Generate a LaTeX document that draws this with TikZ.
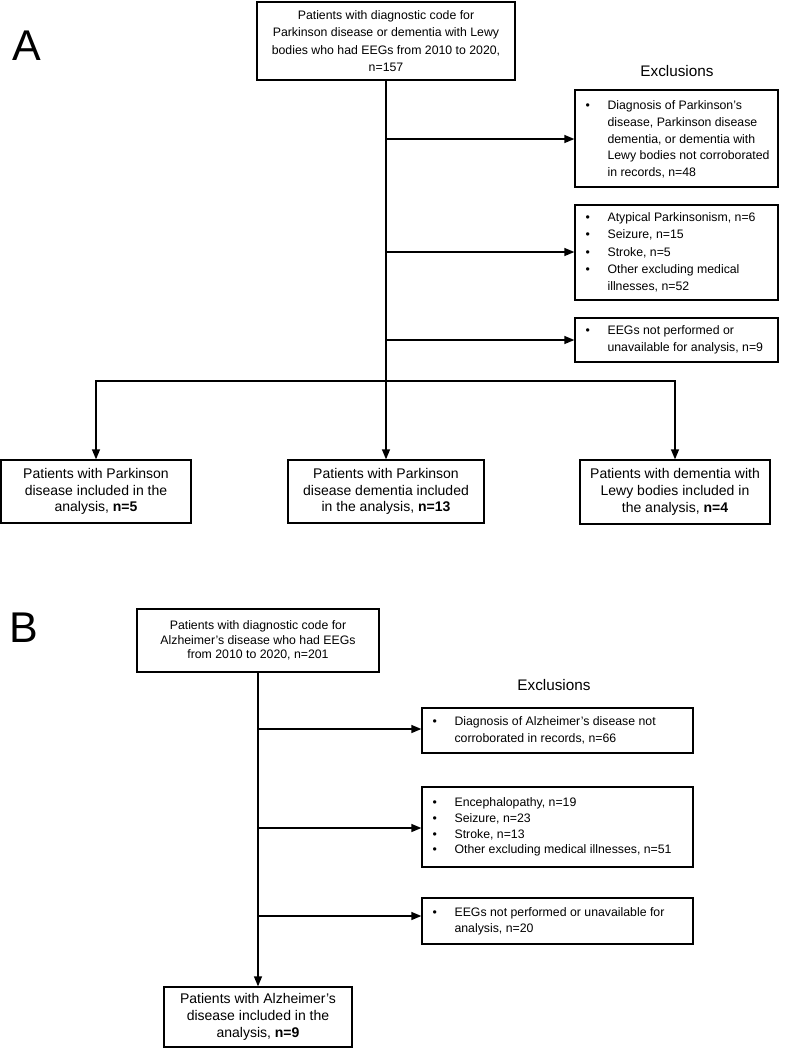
\documentclass[tikz,border=0pt]{standalone}
\usepackage{fontspec}
\setmainfont{Liberation Sans}
\usetikzlibrary{arrows.meta}
\newcommand{\bl}{\makebox[22pt][l]{\textbullet}}
\newcommand{\ind}{\hspace*{22pt}}
\begin{document}
\begin{tikzpicture}[x=1pt,y=-1pt,
  box/.style={draw, line width=1.3pt, inner sep=0pt, align=center},
  exbox/.style={draw, line width=1.3pt, inner sep=0pt},
  extext/.style={inner sep=0pt, align=left, anchor=west},
  conn/.style={line width=1.3pt},
  arr/.style={line width=1.3pt, -{Triangle[length=10pt,width=8pt]}},
  panel/.style={font=\fontsize{43}{43}\selectfont, anchor=base, inner sep=0pt},
  extitle/.style={font=\fontsize{15.3}{18}\selectfont, inner sep=0pt}
]
\useasboundingbox (0,0) rectangle (786,1050);

% ---------- Panel A ----------
\node[panel] (labA) at (27,60) {A};
\node[box, minimum width=258pt, minimum height=78pt,
  font=\fontsize{12.3}{17.5}\selectfont] (A0) at (386,41)
  {Patients with diagnostic code for\\Parkinson disease or dementia with Lewy\\bodies who had EEGs from 2010 to 2020,\\n=157};

\node[extitle] (exA) at (677,71) {Exclusions};

\node[exbox, minimum width=203pt, minimum height=97pt] (EA1) at (676.5,138.5) {};
\node[extext, font=\fontsize{12.3}{16.7}\selectfont] (EA1t) at ([xshift=11pt,yshift=-1pt]EA1.west)
  {\bl Diagnosis of Parkinson’s\\\ind disease, Parkinson disease\\\ind dementia, or dementia with\\\ind Lewy bodies not corroborated\\\ind in records, n=48};

\node[exbox, minimum width=203pt, minimum height=95pt] (EA2) at (676.5,252.5) {};
\node[extext, font=\fontsize{12.3}{17.2}\selectfont] (EA2t) at ([xshift=11pt]EA2.west)
  {\bl Atypical Parkinsonism, n=6\\\bl Seizure, n=15\\\bl Stroke, n=5\\\bl Other excluding medical\\\ind illnesses, n=52};

\node[exbox, minimum width=203pt, minimum height=44pt] (EA3) at (676.5,340) {};
\node[extext, font=\fontsize{12.3}{17.2}\selectfont] (EA3t) at ([xshift=11pt]EA3.west)
  {\bl EEGs not performed or\\\ind unavailable for analysis, n=9};

\node[box, minimum width=190pt, minimum height=63pt,
  font=\fontsize{14}{16.7}\selectfont] (AL) at (96,491.5)
  {Patients with Parkinson\\disease included in the\\analysis, \textbf{n=5}};
\node[box, minimum width=196pt, minimum height=63pt,
  font=\fontsize{14}{16.7}\selectfont] (AM) at (386,491.5)
  {Patients with Parkinson\\disease dementia included\\in the analysis, \textbf{n=13}};
\node[box, minimum width=190pt, minimum height=64pt,
  font=\fontsize{14}{16.7}\selectfont] (AR) at (675,492)
  {Patients with dementia with\\Lewy bodies included in\\the analysis, \textbf{n=4}};

\coordinate (a1) at (386,139);
\coordinate (a2) at (386,252);
\coordinate (a3) at (386,340);
\coordinate (aB) at (386,381);

\draw[arr] (A0.south) -- (AM.north);
\draw[arr] (a1) -- (a1 -| EA1.west);
\draw[arr] (a2) -- (a2 -| EA2.west);
\draw[arr] (a3) -- (a3 -| EA3.west);
\draw[arr] (aB) -| (AL.north);
\draw[arr] (aB) -| (AR.north);

% ---------- Panel B ----------
\node[panel] (labB) at (24,642) {B};
\node[box, minimum width=242pt, minimum height=63pt,
  font=\fontsize{12.3}{14.7}\selectfont] (B0) at (258,640.5)
  {Patients with diagnostic code for\\Alzheimer’s disease who had EEGs\\from 2010 to 2020, n=201};

\node[extitle] (exB) at (554,685) {Exclusions};

\node[exbox, minimum width=271pt, minimum height=45pt] (EB1) at (557.5,730.5) {};
\node[extext, font=\fontsize{12.3}{16.5}\selectfont] (EB1t) at ([xshift=11pt]EB1.west)
  {\bl Diagnosis of Alzheimer’s disease not\\\ind corroborated in records, n=66};

\node[exbox, minimum width=271pt, minimum height=80pt] (EB2) at (557.5,827) {};
\node[extext, font=\fontsize{12.3}{15.7}\selectfont] (EB2t) at ([xshift=11pt]EB2.west)
  {\bl Encephalopathy, n=19\\\bl Seizure, n=23\\\bl Stroke, n=13\\\bl Other excluding medical illnesses, n=51};

\node[exbox, minimum width=271pt, minimum height=46pt] (EB3) at (557.5,921) {};
\node[extext, font=\fontsize{12.3}{16}\selectfont] (EB3t) at ([xshift=11pt]EB3.west)
  {\bl EEGs not performed or unavailable for\\\ind analysis, n=20};

\node[box, minimum width=188pt, minimum height=60pt,
  font=\fontsize{14}{16.7}\selectfont] (BF) at (258,1017)
  {Patients with Alzheimer’s\\disease included in the\\analysis, \textbf{n=9}};

\coordinate (b1) at (258,729);
\coordinate (b2) at (258,828);
\coordinate (b3) at (258,916);

\draw[arr] (B0.south) -- (BF.north);
\draw[arr] (b1) -- (b1 -| EB1.west);
\draw[arr] (b2) -- (b2 -| EB2.west);
\draw[arr] (b3) -- (b3 -| EB3.west);
\end{tikzpicture}
\end{document}
